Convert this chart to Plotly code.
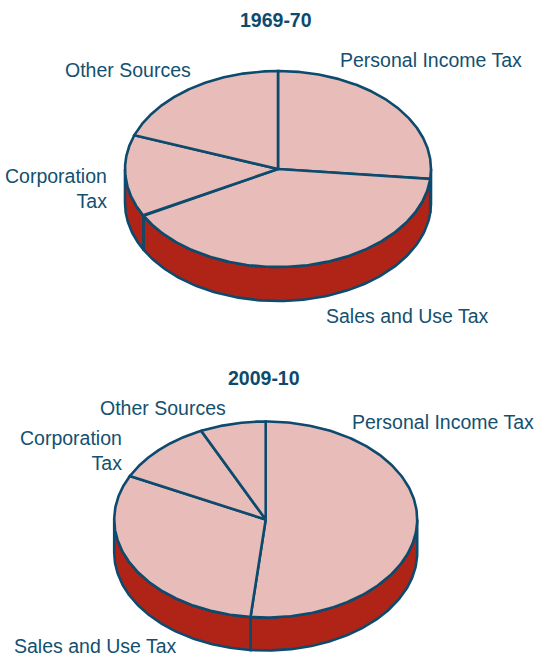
import numpy as np
import plotly.graph_objects as go

categories = ["Personal Income Tax", "Sales and Use Tax", "Corporation Tax", "Other Sources"]
shares_1969 = [26.6, 40.5, 13.5, 19.4]
shares_2009 = [51.6, 30.7, 10.7, 7.0]

TOP = "#e8bcb8"
SIDE = "#b02418"
LINE = "#0c4a6e"
TEXT = "#14506f"
FONT = "Liberation Sans, Arial, sans-serif"
LW = 2.6

pies = [
    dict(shares=shares_1969, cx=278, cy=169, rx=153, ry=98, depth=34),
    dict(shares=shares_2009, cx=265.7, cy=519.5, rx=151.5, ry=98, depth=33),
]

titles = [("1969-70", 276, 20), ("2009-10", 263.5, 378)]
labels = [
    ("Personal Income Tax", 338, 60, "left"),
    ("Sales and Use Tax", 324, 316, "left"),
    ("Corporation<br>Tax", 109, 188.5, "right"),
    ("Other Sources", 63, 70, "left"),
    ("Personal Income Tax", 350, 422, "left"),
    ("Sales and Use Tax", 12, 646, "left"),
    ("Corporation<br>Tax", 124, 450, "right"),
    ("Other Sources", 98, 408, "left"),
]


def ellipse(p, t, drop=0.0):
    return p["cx"] + p["rx"] * np.sin(t), p["cy"] - p["ry"] * np.cos(t) + drop


fig = go.Figure()
for p in pies:
    edges = np.concatenate([[0], np.cumsum(p["shares"]) / sum(p["shares"]) * 2 * np.pi])
    # side wall: only the front half of the disc is visible
    for a, b in zip(edges[:-1], edges[1:]):
        lo, hi = max(a, np.pi / 2), min(b, 3 * np.pi / 2)
        if hi <= lo:
            continue
        t = np.linspace(lo, hi, 120)
        x1, y1 = ellipse(p, t)
        x2, y2 = ellipse(p, t[::-1], p["depth"])
        fig.add_trace(go.Scatter(
            x=np.r_[x1, x2, x1[0]], y=np.r_[y1, y2, y1[0]], mode="lines", fill="toself",
            fillcolor=SIDE, line=dict(color=LINE, width=LW), hoverinfo="skip", showlegend=False))
    # top face
    for name, a, b in zip(categories, edges[:-1], edges[1:]):
        t = np.linspace(a, b, 200)
        x, y = ellipse(p, t)
        fig.add_trace(go.Scatter(
            x=np.r_[p["cx"], x, p["cx"]], y=np.r_[p["cy"], y, p["cy"]], mode="lines", fill="toself",
            fillcolor=TOP, line=dict(color=LINE, width=LW), name=name, showlegend=False))

annotations = []
for text, x, y in titles:
    annotations.append(dict(x=x, y=y, text=text, showarrow=False, xanchor="center", yanchor="middle",
                            font=dict(family=FONT, size=19.5, color=LINE, weight="bold")))
for text, x, y, side in labels:
    ann = dict(x=x, y=y, text=text, showarrow=False, xanchor=side, yanchor="middle",
               align=side, font=dict(family=FONT, size=19.5, color=TEXT))
    if y > 640:  # keep the label's box inside the page
        ann["height"] = 14
    annotations.append(ann)

fig.update_layout(
    width=537, height=654, margin=dict(l=0, r=0, t=0, b=0),
    paper_bgcolor="white", plot_bgcolor="white", annotations=annotations,
    xaxis=dict(range=[0, 537], visible=False, fixedrange=True),
    yaxis=dict(range=[654, 0], visible=False, fixedrange=True),
)
fig.write_html("out.html", config=dict(displayModeBar=False),
               post_script="document.body.style.margin='0';document.documentElement.style.overflow='hidden';")
